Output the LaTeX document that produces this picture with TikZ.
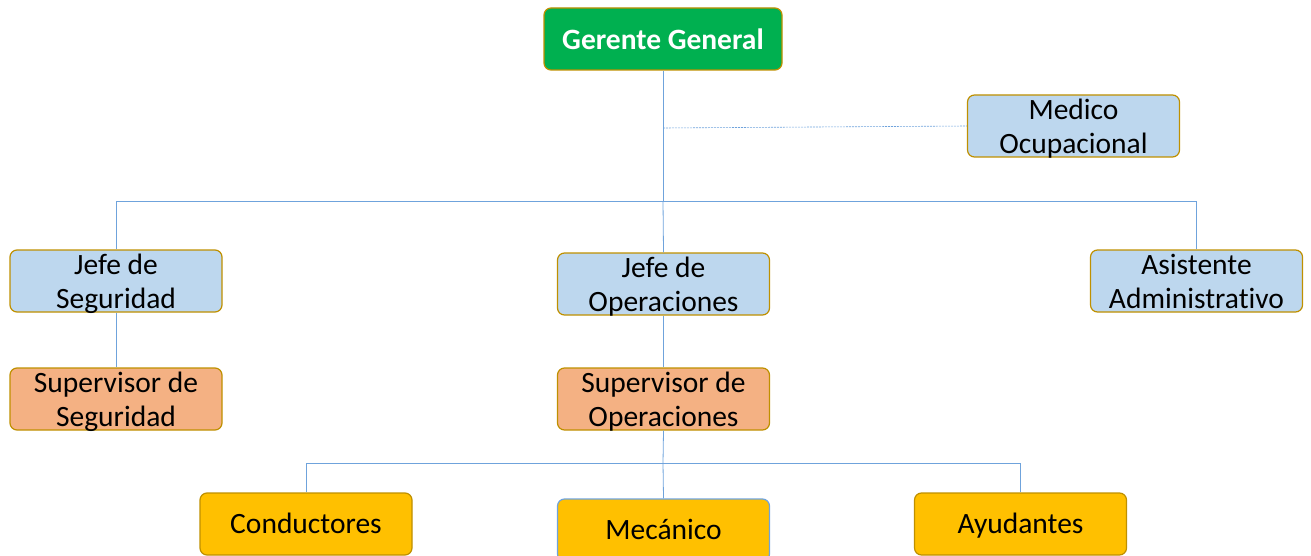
\documentclass[tikz,border=0pt]{standalone}
\usepackage{fontspec}
\setmainfont{Carlito}[Ligatures={NoCommon}]
\definecolor{linec}{HTML}{6FA3DC}
\definecolor{boxb}{HTML}{BF9000}
\definecolor{lblue}{HTML}{BDD7EE}
\definecolor{orng}{HTML}{F4B183}
\definecolor{gold}{HTML}{FFC000}
\definecolor{grn}{HTML}{00B050}
\tikzset{
  box/.style={draw=boxb, line width=1.2pt, rounded corners=7pt, minimum width=212pt, minimum height=62pt, align=center, inner sep=0pt, font=\fontsize{29.5}{34}\selectfont},
  bluebox/.style={box, fill=lblue, text depth=0pt},
  orbox/.style={box, fill=orng, text depth=0pt},
  ybox/.style={box, fill=gold, text height=19.5pt, text depth=0pt},
  conn/.style={draw=linec, line width=0.8pt},
}
\begin{document}
\begin{tikzpicture}[x=1pt,y=-1pt]
\useasboundingbox (0,0) rectangle (1311,556);
\node[box, fill=grn, minimum width=238pt, text=white, font=\fontsize{29.5}{34}\bfseries\selectfont] (gg) at (663,39) {Gerente General};
\node[bluebox] (med) at (1073.5,126) {Medico\\Ocupacional};
\node[bluebox] (js) at (116,281) {Jefe de\\Seguridad};
\node[bluebox] (jo) at (663.5,284) {Jefe de\\Operaciones};
\node[bluebox] (aa) at (1196.5,281) {Asistente\\Administrativo};
\node[orbox] (ss) at (116,399) {Supervisor de\\Seguridad};
\node[orbox] (so) at (663.5,399) {Supervisor de\\Operaciones};
\node[ybox] (co) at (306,524) {Conductores};
\node[ybox, draw=linec] (me) at (663.5,530) {Mecánico};
\node[ybox] (ay) at (1020.5,524) {Ayudantes};
\coordinate (b1) at (663,201);
\coordinate (b2) at (663,463);
\path[conn] (gg.south) -- (b1);
\path[conn] (b1) -| (js.north);
\path[conn] (b1) -- (jo.north);
\path[conn] (b1) -| (aa.north);
\path[conn, dashed, dash pattern=on 2pt off 1pt, line width=0.6pt] (663,128) -- (med.west);
\path[conn] (js.south) -- (ss.north);
\path[conn] (jo.south) -- (so.north);
\path[conn] (so.south) -- (b2);
\path[conn] (b2) -| (co.north);
\path[conn] (b2) -- (me.north);
\path[conn] (b2) -| (ay.north);
\end{tikzpicture}
\end{document}
